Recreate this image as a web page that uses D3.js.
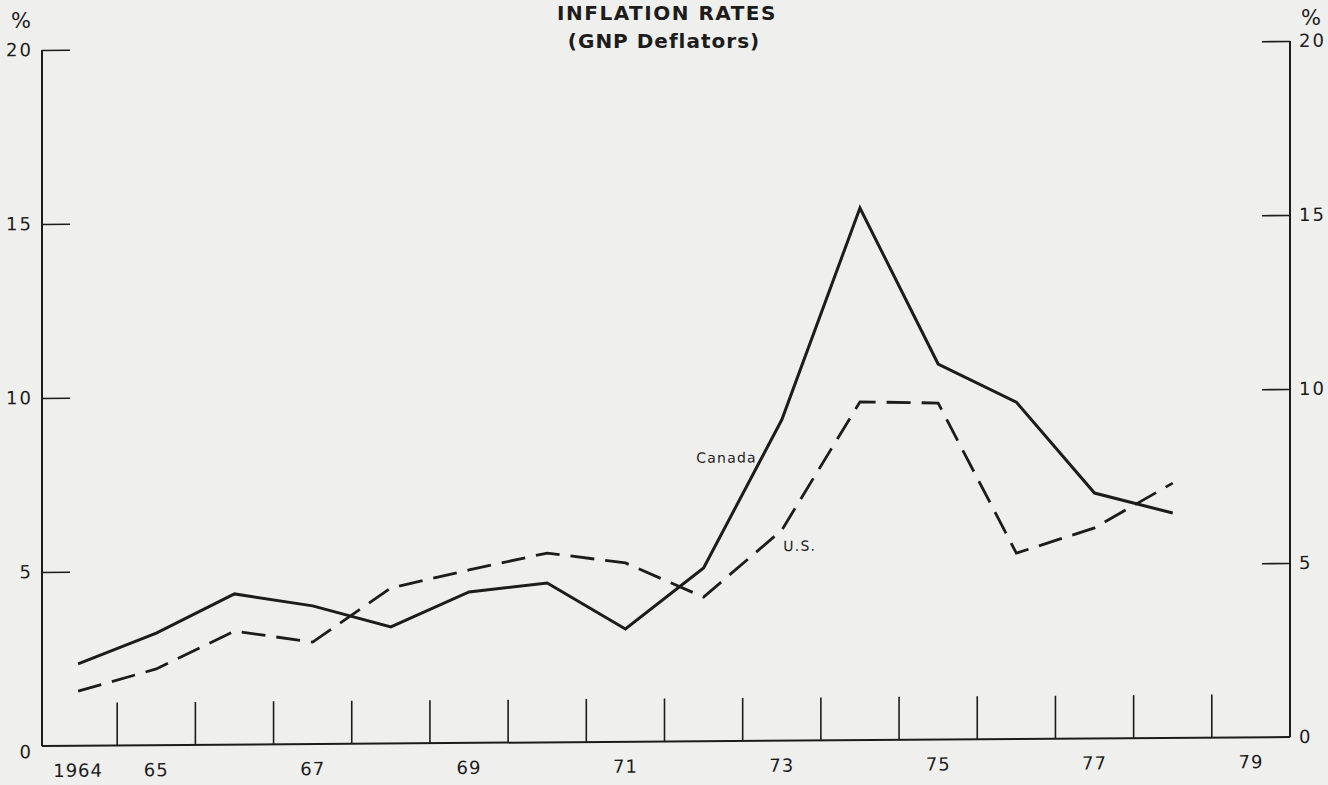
<!DOCTYPE html>
<html>
<head>
<meta charset="utf-8">
<title>Inflation Rates (GNP Deflators)</title>
<script src="https://d3js.org/d3.v7.min.js"></script>
<style>
	body{
		margin:0;
		background-color:#efefed;
	}
	svg text{
		font-family:'DejaVu Sans', sans-serif;
		fill:#1c1c1c;
	}
	.title{
		font-weight:bold;
		font-size:20px;
		letter-spacing:1.5px;
	}
	.tick-label{
		font-size:18px;
		letter-spacing:2px;
	}
	.series-label{
		font-size:14px;
		letter-spacing:1.2px;
	}
</style>
</head>
<body>
<div id="chart"></div>
<script>

//DATA

var years = [1964,1965,1966,1967,1968,1969,1970,1971,1972,1973,1974,1975,1976,1977,1978,1979];
var dataYears = [1964,1965,1966,1967,1968,1969,1970,1971,1972,1973,1974,1975,1976,1977,1978];
var canada = [2.35,3.22,4.33,3.97,3.35,4.34,4.58,3.24,4.98,9.22,15.29,10.79,9.68,7.05,6.46];
var us = [1.57,2.19,3.26,2.93,4.47,4.97,5.44,5.14,4.14,6.05,9.72,9.67,5.34,6.05,7.32];
var yTicks = [0,5,10,15,20];
var labelYears = [1964,1965,1967,1969,1971,1973,1975,1977,1979];
var labelText = ["1964","65","67","69","71","73","75","77","79"];

//SETUP

var width = 1328;
var height = 785;
var plotLeft = 42;
var plotRight = 1290;
var plotBottom = 746;
var plotTop = 50;
var slope = 9 / 1248; // the scanned page drops a little toward the left

var svg = d3.select("#chart").append("svg")
	.attr("width", width)
	.attr("height", height);

svg.append("rect")
	.attr("width", width)
	.attr("height", height)
	.attr("fill", "#efefed");

// skew so that the right side sits higher, uprights stay vertical
var g = svg.append("g")
	.attr("transform", "matrix(1," + (-slope) + ",0,1,0," + (plotLeft * slope) + ")");

var x = d3.scaleBand()
	.domain(years)
	.range([39, plotRight])
	.padding(0);

var y = d3.scaleLinear()
	.domain([0, 20])
	.range([plotBottom, plotTop]);

function mid(yr){ return x(yr) + x.bandwidth() / 2; }

//TITLE

svg.append("text")
	.attr("class", "title")
	.attr("x", 667)
	.attr("y", 20)
	.attr("text-anchor", "middle")
	.text("INFLATION RATES");

svg.append("text")
	.attr("class", "title")
	.attr("x", 664)
	.attr("y", 48)
	.attr("text-anchor", "middle")
	.style("letter-spacing", "1px")
	.text("(GNP Deflators)");

//AXES

var leftAxis = g.append("g")
	.attr("transform", "translate(" + plotLeft + ",0)")
	.call(d3.axisRight(y).tickValues(yTicks.slice(1)).tickSize(28).tickSizeOuter(0).tickFormat(""));

var rightAxis = g.append("g")
	.attr("transform", "translate(" + plotRight + ",0)")
	.call(d3.axisLeft(y).tickValues(yTicks.slice(1)).tickSize(28).tickSizeOuter(0).tickFormat(""));

var bottomAxis = g.append("g")
	.attr("transform", "translate(0," + plotBottom + ")")
	.call(d3.axisTop(x).tickValues(years.slice(1)).tickSize(43).tickSizeOuter(0).tickFormat(""));

// band axis puts ticks at band centres; move them to year boundaries
bottomAxis.selectAll(".tick")
	.attr("transform", function(d){ return "translate(" + x(d) + ",0)"; });

bottomAxis.select(".domain")
	.attr("d", "M" + plotLeft + ",0H" + plotRight);

leftAxis.select(".domain").attr("d", "M0," + y(0) + "V" + y(20));
rightAxis.select(".domain").attr("d", "M0," + y(0) + "V" + y(20));

g.selectAll(".domain")
	.attr("stroke", "#1c1c1c")
	.attr("stroke-width", 2);
g.selectAll(".tick line")
	.attr("stroke", "#1c1c1c")
	.attr("stroke-width", 1.6);

//AXIS LABELS

g.selectAll(".ylabel-left")
	.data(yTicks)
	.enter()
	.append("text")
	.attr("class", "tick-label")
	.attr("x", 33)
	.attr("y", function(d){ return y(d) + (d === 0 ? 12 : 6); })
	.attr("text-anchor", "end")
	.text(function(d){ return d; });

g.selectAll(".ylabel-right")
	.data(yTicks)
	.enter()
	.append("text")
	.attr("class", "tick-label")
	.attr("x", plotRight + 9)
	.attr("y", function(d){ return y(d) + 6; })
	.attr("text-anchor", "start")
	.text(function(d){ return d; });

g.selectAll(".xlabel")
	.data(labelYears)
	.enter()
	.append("text")
	.attr("class", "tick-label")
	.attr("x", function(d){ return mid(d); })
	.attr("y", plotBottom + 31)
	.attr("text-anchor", "middle")
	.style("letter-spacing", "1px")
	.text(function(d, i){ return labelText[i]; });

svg.append("text")
	.attr("class", "tick-label")
	.attr("x", 21)
	.attr("y", 28)
	.attr("text-anchor", "middle")
	.style("font-size", "21px")
	.style("letter-spacing", "0px")
	.text("%");

svg.append("text")
	.attr("class", "tick-label")
	.attr("x", 1311)
	.attr("y", 25)
	.attr("text-anchor", "middle")
	.style("font-size", "21px")
	.style("letter-spacing", "0px")
	.text("%");

//LINES

var line = d3.line()
	.x(function(d, i){ return mid(dataYears[i]); })
	.y(function(d){ return y(d); });

g.append("path")
	.datum(us)
	.attr("fill", "none")
	.attr("stroke", "#1c1c1c")
	.attr("stroke-width", 2.8)
	.attr("stroke-dasharray", "24,11")
	.attr("d", line);

g.append("path")
	.datum(canada)
	.attr("fill", "none")
	.attr("stroke", "#1c1c1c")
	.attr("stroke-width", 3)
	.attr("stroke-linejoin", "miter")
	.attr("d", line);

//SERIES LABELS

g.append("text")
	.attr("class", "series-label")
	.attr("x", mid(1972) + 23)
	.attr("y", y(8.0))
	.attr("text-anchor", "middle")
	.text("Canada");

g.append("text")
	.attr("class", "series-label")
	.attr("x", mid(1973) + 18)
	.attr("y", y(5.45))
	.attr("text-anchor", "middle")
	.text("U.S.");

</script>
</body>
</html>
